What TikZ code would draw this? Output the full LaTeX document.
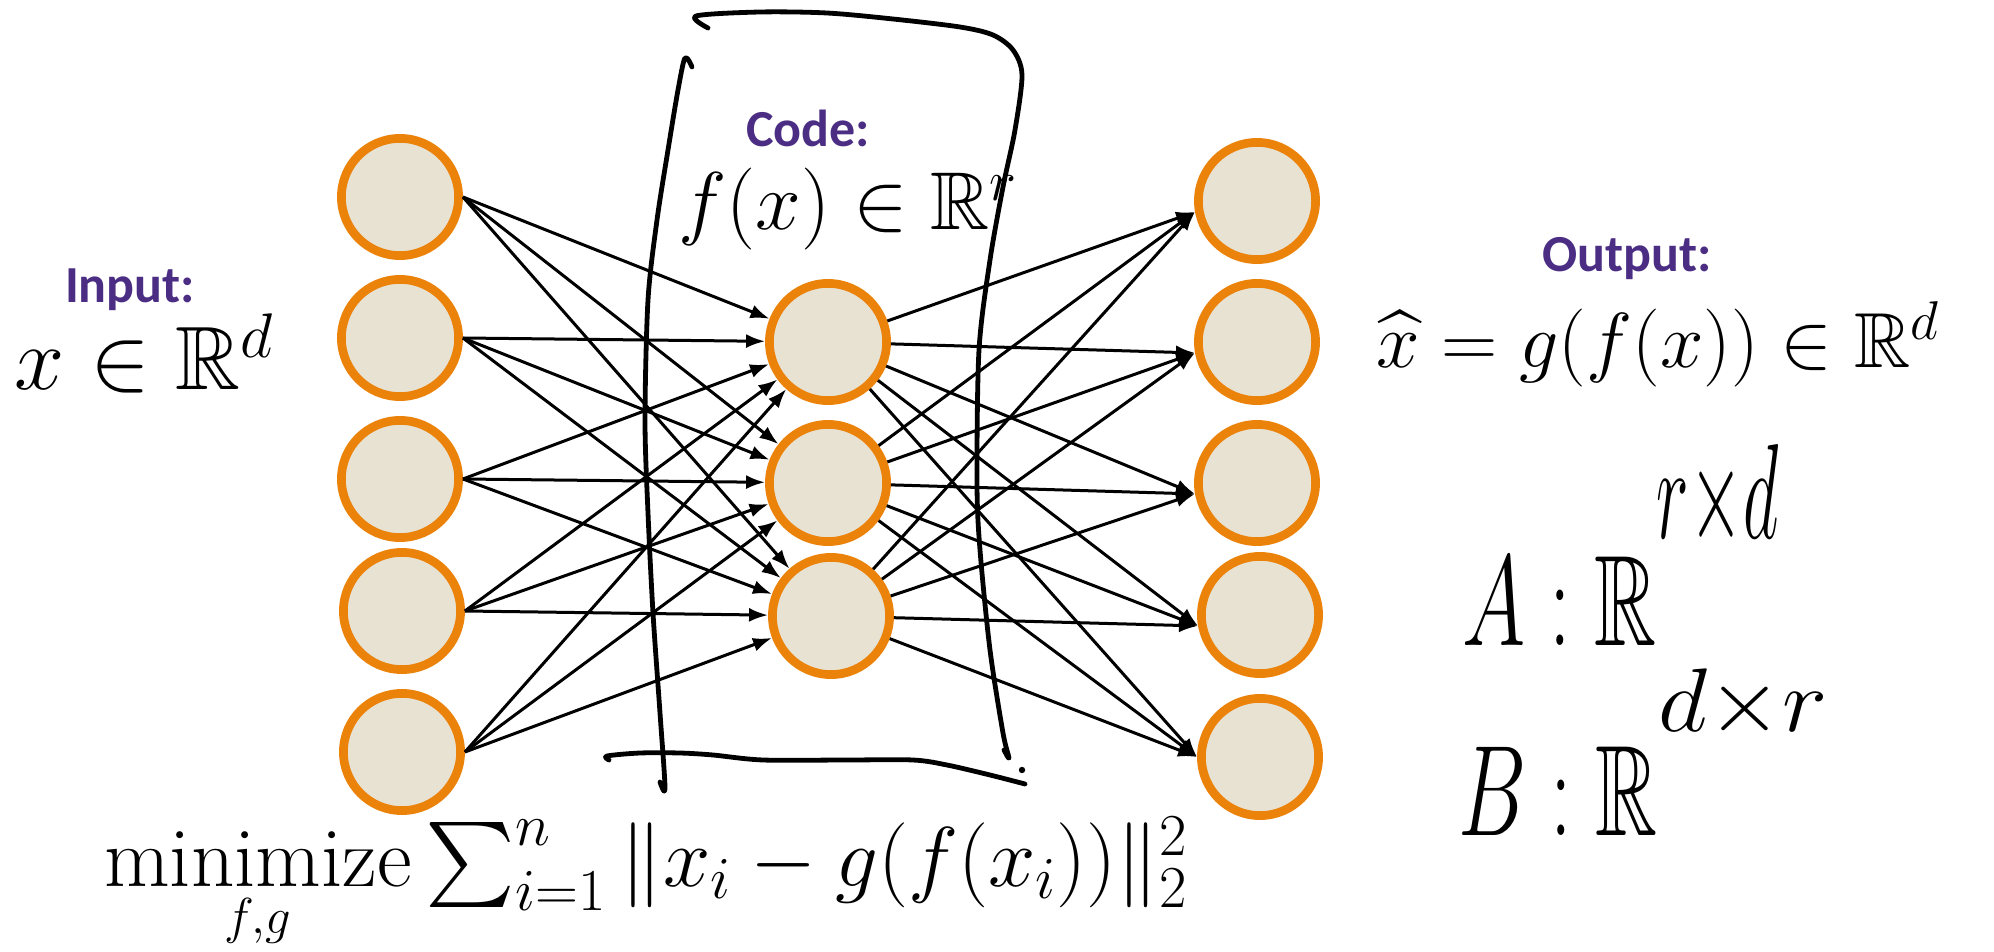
\RequirePackage{fix-cm}
\documentclass[tikz,border=0pt]{standalone}
\usepackage{fontspec}
\usepackage{amsmath,amssymb}
\newfontfamily\calib{Carlito}
\usetikzlibrary{arrows.meta}
\definecolor{uworange}{RGB}{235,130,10}
\definecolor{nodefill}{RGB}{232,226,211}
\definecolor{uwpurple}{RGB}{75,46,131}
\newcommand{\minop}{\mathop{\vtop{\offinterlineskip\halign{\hfil##\hfil\cr
  $\mathrm{minimize}$\cr\noalign{\kern 6pt}
  \scalebox{0.85}{$\scriptstyle f,g$}\cr}}}}
\begin{document}
\begin{tikzpicture}[x=0.5pt,y=-0.5pt,
  neuron/.style={circle, draw=uworange, fill=nodefill, line width=4.35pt, minimum size=58.6pt, inner sep=0pt},
  edge/.style={line width=1.5pt, -{Latex[length=9.5pt,width=7pt]}},
  pen/.style={line width=2.4pt, line cap=round, line join=round},
  lbl/.style={font=\calib\bfseries\fontsize{26}{30}\selectfont, text=uwpurple, anchor=base, inner sep=0pt},
  mathlbl/.style={anchor=base, inner sep=0pt},
  hand/.style={anchor=base west, inner sep=0pt, font=\fontsize{43}{50}\selectfont}
]
\useasboundingbox (0,0) rectangle (1994,952);

% input layer
\node[neuron] (i1) at (400,197) {};
\node[neuron] (i2) at (400,338) {};
\node[neuron] (i3) at (400,479) {};
\node[neuron] (i4) at (402,611) {};
\node[neuron] (i5) at (402,752) {};
% code layer
\node[neuron] (m1) at (828,342) {};
\node[neuron] (m2) at (828,483) {};
\node[neuron] (m3) at (831,616) {};
% output layer
\node[neuron] (o1) at (1257,201) {};
\node[neuron] (o2) at (1257,342) {};
\node[neuron] (o3) at (1257,483) {};
\node[neuron] (o4) at (1260,615) {};
\node[neuron] (o5) at (1260,757) {};

\foreach \i in {1,...,5}
  \foreach \j in {1,2,3}
    \draw[edge] (i\i.east) -- (m\j);
\foreach \j in {1,2,3}
  \foreach \k/\a in {1/190,2/190,3/190,4/190,5/180}
    \draw[edge] (m\j) -- (o\k.\a);

% labels
\node[lbl] (tin) at (130,303) {Input:};
\node[mathlbl, font=\fontsize{45}{50}\selectfont] (xin) at (144,390) {$x \in \mathbb{R}^d$};
\node[lbl] (tcode) at (808,147) {Code:};
\node[mathlbl, font=\fontsize{41}{48}\selectfont] (fx) at (848,230) {$f(x) \in \mathbb{R}^r$};
\node[lbl] (tout) at (1627,272) {Output:};
\node[mathlbl, font=\fontsize{39}{46}\selectfont] (xhat) at (1658,368) {$\widehat{x} = g(f(x)) \in \mathbb{R}^d$};
\node[mathlbl, font=\fontsize{42.5}{48}\selectfont] (obj) at (646,886) {$\minop \sum_{i=1}^n \|x_i - g(f(x_i))\|_2^2$};

% handwritten annotations
\node[hand] (ha) at (1462,645) {\scalebox{1}[1.5]{$A : \mathbb{R}^{\raisebox{20pt}{\scalebox{1.15}[1.5]{$\scriptstyle r\times d$}}}$}};
\node[hand] (hb) at (1458,835) {\scalebox{1}[1.5]{$B : \mathbb{R}^{\raisebox{19pt}{\scalebox{1.6}[1]{$\scriptstyle d\times r$}}}$}};

% handwritten strokes
\draw[pen] plot[smooth, tension=0.5] coordinates {(692,67) (685,58) (678,90) (668,150) (657,220) (648,300) (645,420) (648,513) (653,613) (660,713) (665,788) (660,782)};
\draw[pen] plot[smooth, tension=0.5] coordinates {(708,28) (696,16) (760,12) (827,13) (893,19) (960,27) (993,35) (1013,50) (1022,75) (1015,130) (1003,187) (990,260) (979,350) (977,483) (980,550) (990,650) (1003,733) (1009,758) (1004,750)};
\draw[pen] plot[smooth, tension=0.5] coordinates {(609,760) (607,756) (640,753) (680,753) (713,755) (763,760) (847,760) (913,760) (947,765) (990,775) (1025,784)};
\fill (1022,770) circle (1.6pt);
\end{tikzpicture}
\end{document}
